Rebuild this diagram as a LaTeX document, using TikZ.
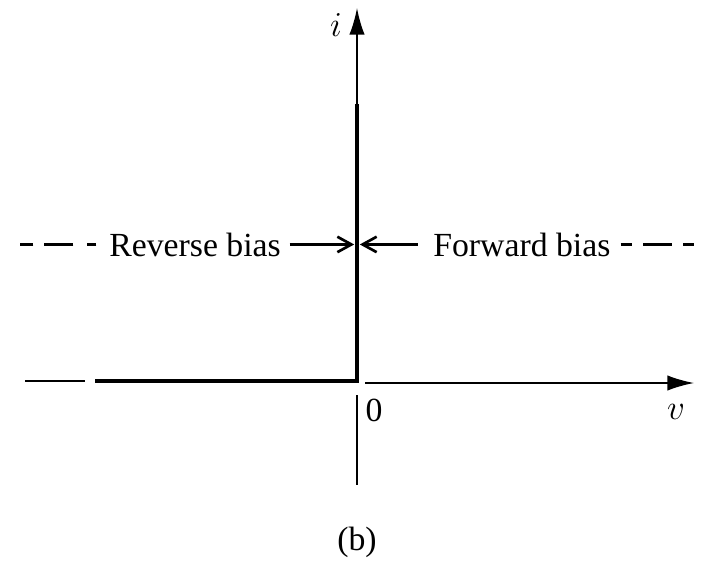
\documentclass[tikz,border=0pt]{standalone}
\usepackage{fontspec}
\setmainfont{Liberation Serif}
\usetikzlibrary{arrows.meta,positioning}

\begin{document}
\begin{tikzpicture}[
  x=0.025cm, y=-0.025cm,
  axis/.style={line width=1.3pt, -{Latex[length=19pt,width=11pt]}},
  curve/.style={line width=2.8pt},
  bias/.style={line width=1.9pt, -{Straight Barb[length=10pt,width=11pt]}},
  dashes/.style={line width=1.5pt},
  lbl/.style={font=\fontsize{24}{28}\selectfont, inner sep=0pt}
]
  \useasboundingbox (0,0) rectangle (707,564);
  % axes
  \coordinate (o) at (357,381);
  \coordinate (itop) at (357,8);
  \coordinate (knee) at (357,104);
  \coordinate (ibot) at (357,485);
  \coordinate (igap) at (357,395);
  \coordinate (vstart) at (365,383);
  \coordinate (vend) at (694,383);
  \coordinate (rstart) at (95,381);
  \coordinate (dstart) at (25,381);
  \coordinate (dend) at (85,381);
  \draw[axis] (o) -- (itop);
  \draw[axis] (vstart) -- (vend);
  \draw[line width=1.3pt] (igap) -- (ibot);
  % diode characteristic
  \draw[curve] (rstart) -- (o) -- (knee);
  \draw[line width=2pt] (dstart) -- (dend);
  % labels
  \node[lbl] (ilbl) at (336,25) {$i$};
  \node[lbl] (vlbl) at (676,412) {$v$};
  \node[lbl] (zero) at (374,410) {0};
  \node[lbl] (cap) at (357,542) {(b)};
  % bias regions
  \node[lbl, anchor=base west] (rev) at (109,256) {Reverse bias};
  \node[lbl, anchor=base west] (fwd) at (433,256) {Forward bias};
  \coordinate (ldash) at (20,246);
  \coordinate (rdash) at (694,246);
  \draw[bias, shorten <=6pt, shorten >=2pt] (rev.east) -- (rev.east -| o);
  \draw[bias, shorten <=11pt, shorten >=2pt] (fwd.west) -- (fwd.west -| o);
  \draw[dashes, shorten <=9pt,
        dash pattern=on 6.4pt off 10pt on 20.6pt off 7.8pt on 10pt off 20pt]
        (rev.west) -- (rev.west -| ldash);
  \draw[dashes, shorten <=7pt,
        dash pattern=on 7.8pt off 8.5pt on 20.6pt off 7.8pt on 10pt off 20pt]
        (fwd.east) -- (fwd.east -| rdash);
\end{tikzpicture}
\end{document}
